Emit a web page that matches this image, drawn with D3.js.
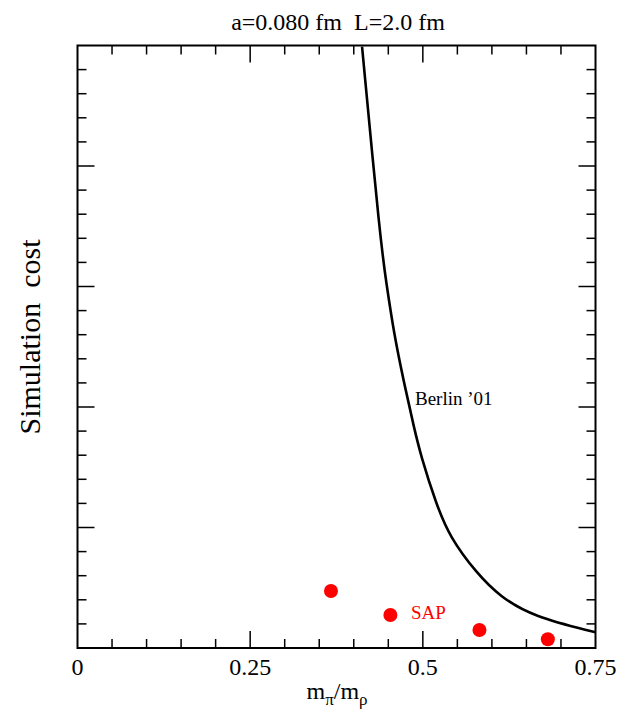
<!DOCTYPE html>
<html><head><meta charset="utf-8">
<script src="https://cdn.jsdelivr.net/npm/d3@7"></script>
<style>body{margin:0;background:#fff}svg{display:block}text{font-family:"Liberation Serif","Times New Roman",serif;white-space:pre}</style>
</head><body>
<svg id="c" width="619" height="714"></svg>
<script>
// Data
const xTickValues = [0, 0.25, 0.5, 0.75];
const xTickLabels = ["0", "0.25", "0.5", "0.75"];
const berlinX = [0.412, 0.4387, 0.4474, 0.4582, 0.472, 0.488, 0.497, 0.519, 0.539, 0.578, 0.612, 0.660, 0.750];
const berlinY = [4.99, 3.37, 3.02, 2.61, 2.22, 1.81, 1.60, 1.20, 0.92, 0.62, 0.425, 0.26, 0.13];
const sapX = [0.367, 0.453, 0.582, 0.681];
const sapY = [0.473, 0.274, 0.149, 0.072];

const svg = d3.select("#c");
const L = 77.5, R = 595.5, T = 45.5, B = 648;
const x = d3.scaleLinear().domain([0, 0.75]).range([L, R]);
const y = d3.scaleLinear().domain([0, 5]).range([B, T]);

const majorLen = 17, minorLen = 9;
const g = svg.append("g");

// x ticks (bottom & top, inward)
const xMinor = d3.range(0, 0.7501, 0.05).map(v => +v.toFixed(2));
xMinor.forEach(v => {
  const isMaj = xTickValues.some(m => Math.abs(m - v) < 1e-6);
  if (v === 0 || v === 0.75) return;
  const len = isMaj ? majorLen : minorLen;
  g.append("line").attr("x1", x(v)).attr("x2", x(v)).attr("y1", B).attr("y2", B - len)
    .attr("stroke", "#000").attr("stroke-width", 1.5);
  g.append("line").attr("x1", x(v)).attr("x2", x(v)).attr("y1", T).attr("y2", T + len)
    .attr("stroke", "#000").attr("stroke-width", 1.5);
});
// y ticks (left & right, inward)
const yMinor = d3.range(0, 5.001, 0.2).map(v => +v.toFixed(2));
yMinor.forEach(v => {
  if (v === 0 || v === 5) return;
  const isMaj = Math.abs(v - Math.round(v)) < 1e-6;
  const len = isMaj ? majorLen : minorLen;
  g.append("line").attr("x1", L).attr("x2", L + len).attr("y1", y(v)).attr("y2", y(v))
    .attr("stroke", "#000").attr("stroke-width", 1.5);
  g.append("line").attr("x1", R).attr("x2", R - len).attr("y1", y(v)).attr("y2", y(v))
    .attr("stroke", "#000").attr("stroke-width", 1.5);
});

// x tick labels
xTickValues.forEach((v, i) => {
  svg.append("text").attr("x", x(v)).attr("y", 675).attr("text-anchor", "middle")
    .attr("font-size", 24).text(xTickLabels[i]);
});

// clip
svg.append("clipPath").attr("id", "clip").append("rect")
  .attr("x", L).attr("y", T).attr("width", R - L).attr("height", B - T);

// Berlin curve
const berlin = berlinX.map((v, i) => [v, berlinY[i]]);
svg.append("path").datum(berlin).attr("clip-path", "url(#clip)")
  .attr("d", d3.line().x(d => x(d[0])).y(d => y(d[1])).curve(d3.curveBasis))
  .attr("fill", "none").attr("stroke", "#000").attr("stroke-width", 2.6);

// SAP points
svg.selectAll("circle.sap").data(sapX.map((v, i) => [v, sapY[i]])).enter()
  .append("circle").attr("class", "sap")
  .attr("cx", d => x(d[0])).attr("cy", d => y(d[1])).attr("r", 7).attr("fill", "#ff0000");

// frame
svg.append("rect").attr("x", L).attr("y", T).attr("width", R - L).attr("height", B - T)
  .attr("fill", "none").attr("stroke", "#000").attr("stroke-width", 2);

// labels
svg.append("text").attr("x", 415).attr("y", 405).attr("font-size", 19).text("Berlin \u201901");
svg.append("text").attr("x", 411).attr("y", 619).attr("font-size", 19).attr("fill", "#ff0000").text("SAP");

svg.append("text").attr("x", 338).attr("y", 30).attr("text-anchor", "middle")
  .attr("font-size", 24).text("a=0.080 fm  L=2.0 fm");

svg.append("text").attr("transform", "translate(40,337) rotate(-90)").attr("text-anchor", "middle")
  .attr("font-size", 30).text("Simulation  cost");

const xl = svg.append("text").attr("x", 337).attr("y", 699).attr("text-anchor", "middle").attr("font-size", 24);
xl.append("tspan").text("m");
xl.append("tspan").attr("dy", 6).attr("font-size", 17).text("\u03c0");
xl.append("tspan").attr("dy", -6).text("/m");
xl.append("tspan").attr("dy", 6).attr("font-size", 17).text("\u03c1");
</script>
</body></html>
